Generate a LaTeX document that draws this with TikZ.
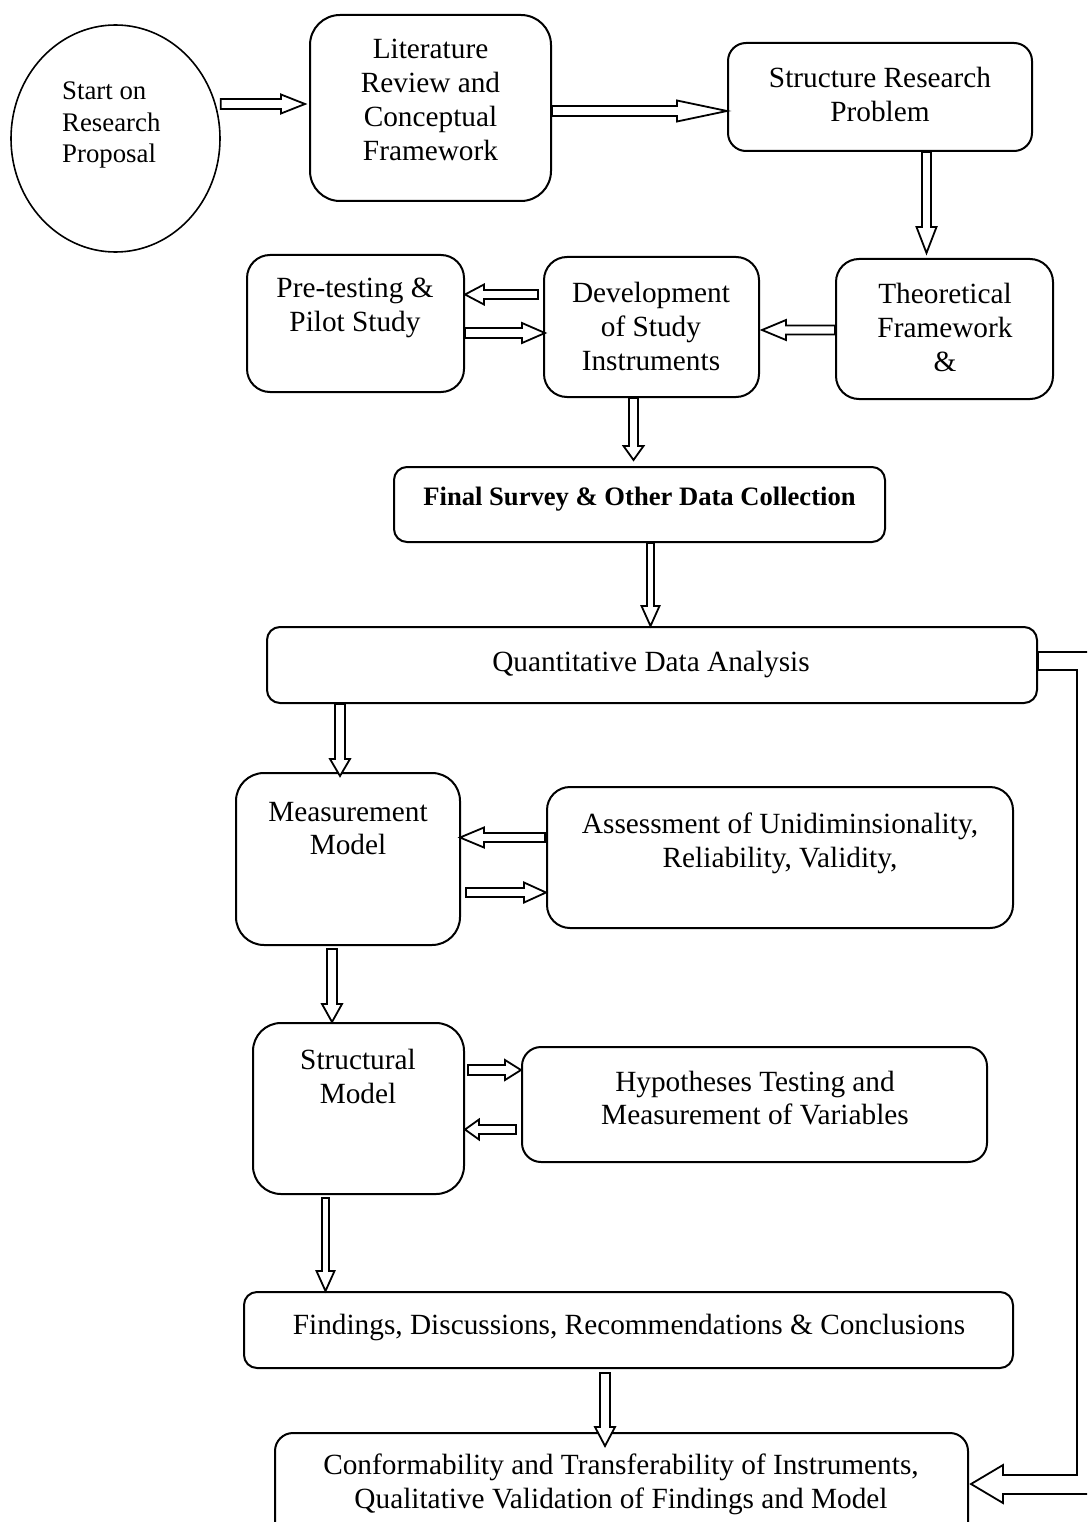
\documentclass[tikz,border=0pt]{standalone}
\usepackage{fontspec}
\setmainfont{Liberation Serif}
\usetikzlibrary{calc,shapes.geometric}

% block arrow: from, to, half shaft width, half head width, head length
\newcommand\blockarrow[5]{%
  \draw[blk] let \p1=(#1), \p2=(#2),
    \n1={veclen(\x2-\x1,\y2-\y1)},
    \n2={(\x2-\x1)/\n1}, \n3={(\y2-\y1)/\n1} in
    ({\x1-(\n3)*(#3)},{\y1+(\n2)*(#3)})
    -- ({\x2-(\n2)*(#5)-(\n3)*(#3)},{\y2-(\n3)*(#5)+(\n2)*(#3)})
    -- ({\x2-(\n2)*(#5)-(\n3)*(#4)},{\y2-(\n3)*(#5)+(\n2)*(#4)})
    -- (\p2)
    -- ({\x2-(\n2)*(#5)+(\n3)*(#4)},{\y2-(\n3)*(#5)-(\n2)*(#4)})
    -- ({\x2-(\n2)*(#5)+(\n3)*(#3)},{\y2-(\n3)*(#5)-(\n2)*(#3)})
    -- ({\x1+(\n3)*(#3)},{\y1-(\n2)*(#3)}) -- cycle;}

% rounded box from its corners: name, left, top, right, bottom, radius
\newcommand\boxat[6]{%
  \node[box=#6, minimum width={#4-#2}, minimum height={#5-#3}]
    (#1) at ({(#2+#4)/2},{(#3+#5)/2}) {};}

\begin{document}
\begin{tikzpicture}[x=1pt, y=-1pt,
  box/.style={draw, line width=2pt, rounded corners=#1, inner sep=0pt},
  blk/.style={draw, line width=1.8pt, fill=white, line join=miter},
  txt/.style={align=center, inner sep=0pt, font=\fontsize{29.3}{33.9}\selectfont},
  smalltxt/.style={align=left, inner sep=0pt, font=\fontsize{26.8}{31.8}\selectfont},
  boldtxt/.style={inner sep=0pt, font=\fontsize{26.6}{31}\selectfont\bfseries},
]
\useasboundingbox (0,0) rectangle (1087,1522);
\clip (0,0) rectangle (1087,1522);

% start ellipse
\node[draw, ellipse, line width=1.6pt, minimum width=209, minimum height=227,
      inner sep=0pt] (start) at (115.5,138.5) {};
\node[smalltxt, anchor=west] (startT) at (62,125) {Start on\\Research\\Proposal};

% boxes
\boxat{lit}{310}{15}{551}{201}{30pt}
\boxat{struct}{728}{43}{1032}{151}{18pt}
\boxat{theo}{836}{259}{1053}{399}{23pt}
\boxat{dev}{544}{257}{759}{397}{23pt}
\boxat{pre}{247}{255}{464}{392}{23pt}
\boxat{final}{394}{467}{885}{542}{13pt}
\boxat{quant}{267}{627}{1037}{703}{13pt}
\boxat{meas}{236}{773}{460}{945}{28pt}
\boxat{assess}{547}{787}{1013}{928}{23pt}
\boxat{struc}{253}{1023}{464}{1194}{28pt}
\boxat{hyp}{522}{1047}{987}{1162}{19pt}
\boxat{find}{244}{1292}{1013}{1368}{13pt}
\boxat{conf}{275}{1433}{968}{1545}{18pt}

% box texts
\node[txt] (litT) at (430.5,100) {Literature\\Review and\\Conceptual\\Framework};
\node[txt] (structT) at (880,94.5) {Structure Research\\Problem};
\node[txt] (theoT) at (945,327.5) {Theoretical\\Framework\\\&};
\node[txt] (devT) at (651,326.5) {Development\\of Study\\Instruments};
\node[txt] (preT) at (355,307.7) {Pre-testing \&\\Pilot Study};
\node[boldtxt] (finalT) at (639.5,499.5) {Final Survey \& Other Data Collection};
\node[txt] (quantT) at (651,664) {Quantitative Data Analysis};
\node[txt] (measT) at (348,828.5) {Measurement\\Model};
\node[txt] (assessT) at (780,843) {Assessment of Unidiminsionality,\\Reliability, Validity,};
\node[txt] (strucT) at (358,1076.5) {Structural\\Model};
\node[txt] (hypT) at (755,1098) {Hypotheses Testing and\\Measurement of Variables};
\node[txt] (findT) at (629,1327.5) {Findings, Discussions, Recommendations \& Conclusions};
\node[txt] (confT) at (621,1484) {Conformability and Transferability of Instruments,\\Qualitative Validation of Findings and Model};

% connectors
\blockarrow{start.east |- 0,104}{$(lit.west |- 0,104)+(-4,0)$}{5}{9.5}{24}
\blockarrow{lit.east |- 0,111}{struct.west |- 0,111}{5}{10.5}{50}
\blockarrow{struct.south -| 926.5,0}{$(theo.north -| 926.5,0)+(0,-5)$}{4.5}{10}{26}
\blockarrow{theo.west |- 0,330}{$(dev.east |- 0,330)+(2,0)$}{4.5}{10}{24}
\blockarrow{$(dev.west |- 0,294.5)+(-5,0)$}{pre.east |- 0,294.5}{4.5}{10}{19}
\blockarrow{pre.east |- 0,333}{$(dev.west |- 0,333)+(2,0)$}{5}{10}{23}
\blockarrow{dev.south -| 633.5,0}{$(final.north -| 633.5,0)+(0,-6)$}{4.5}{10}{14}
\blockarrow{final.south -| 650.5,0}{quant.north -| 650.5,0}{3.5}{9}{20}
\blockarrow{quant.south -| 340,0}{$(meas.north -| 340,0)+(0,4)$}{5}{10}{17}
\blockarrow{$(assess.west |- 0,837.5)+(-1,0)$}{$(meas.east |- 0,837.5)+(-1,0)$}{4.5}{10}{24}
\blockarrow{$(meas.east |- 0,892.5)+(5,0)$}{assess.west |- 0,892.5}{4.5}{10}{22}
\blockarrow{$(meas.south -| 332,0)+(0,3)$}{struc.north -| 332,0}{5}{10}{18}
\blockarrow{$(struc.east |- 0,1070)+(3,0)$}{hyp.west |- 0,1070}{5}{10}{16}
\blockarrow{$(hyp.west |- 0,1129.5)+(-5,0)$}{struc.east |- 0,1129.5}{4.5}{10}{14}
\blockarrow{$(struc.south -| 325.5,0)+(0,3)$}{find.north -| 325.5,0}{3.5}{9}{20}
\blockarrow{$(find.south -| 605,0)+(0,4)$}{$(conf.north -| 605,0)+(0,14)$}{5}{10}{19}

% feedback loop from the analysis box down to the last box
\draw[blk] (quant.east |- 0,652) -- (1095,652) -- (1095,1494) -- (1003,1494)
  -- (1003,1503) -- ($(conf.east |- 0,1484)+(2,0)$) -- (1003,1465) -- (1003,1475)
  -- (1077,1475) -- (1077,670) -- (quant.east |- 0,670) -- cycle;
\end{tikzpicture}
\end{document}
